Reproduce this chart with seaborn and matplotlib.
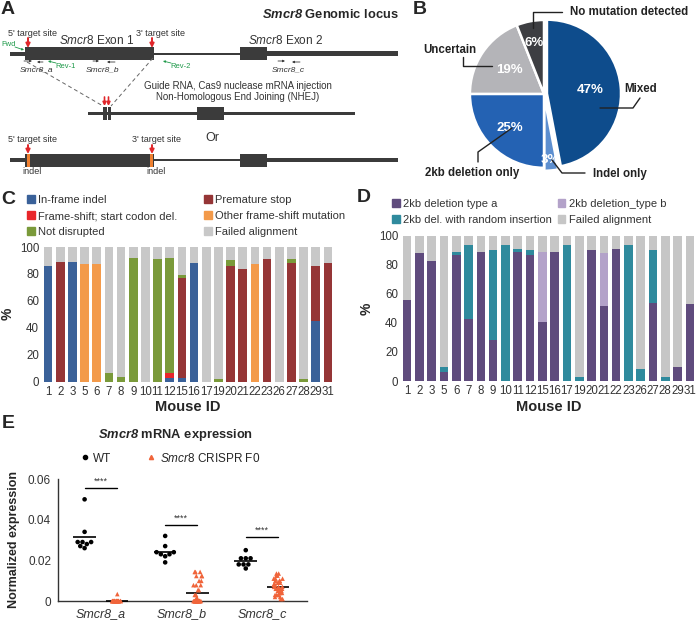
import matplotlib

matplotlib.use("Agg")
import matplotlib.pyplot as plt
import numpy as np
import pandas as pd
import seaborn as sns
from matplotlib.lines import Line2D
from matplotlib.patches import Patch, Rectangle

W, H = 699, 621

# ---- panel B: genotype summary
pie_labels = ["Mixed", "Indel only", "2kb deletion only", "Uncertain", "No mutation detected"]
pie_values = [47, 3, 25, 19, 6]
pie_colors = ["#0e4c8c", "#5d8fd0", "#2462b3", "#b4b4b8", "#3d3e42"]

# ---- panels C and D: per-mouse allele composition (%)
mouse_ids = ["1", "2", "3", "5", "6", "7", "8", "9", "10", "11", "12", "15",
             "16", "17", "19", "20", "21", "22", "23", "26", "27", "28", "29", "31"]

c_inframe = [86, 0, 89, 0, 0, 0, 0, 0, 0, 0, 2.5, 2.5, 88, 0, 0, 0, 0, 0, 0, 0, 0, 0, 45, 0]
c_start_del = [0, 0, 0, 0, 0, 0, 0, 0, 0, 0, 3.5, 0, 0, 0, 0, 0, 0, 0, 0, 0, 0, 0, 0, 0]
c_stop = [0, 89, 0, 0, 0, 0, 0, 0, 0, 0, 0, 74.5, 0, 0, 0, 86, 84, 0, 91, 0, 88, 0, 41, 88]
c_other_fs = [0, 0, 0, 87, 87, 0, 0, 0, 0, 0, 0, 0, 0, 0, 0, 0, 0, 87, 0, 0, 0, 0, 0, 0]
c_not_disrupted = [0, 0, 0, 0, 0, 6, 3, 92, 0, 91, 86, 2, 0, 0, 1.5, 4, 0, 0, 0, 0, 3, 1.5, 0, 0]
c_names = ["In-frame indel", "Frame-shift; start codon del.", "Premature stop",
           "Other frame-shift mutation", "Not disrupted", "Failed alignment"]
c_colors = ["#3a6199", "#e8262a", "#953536", "#f39a4a", "#7a9a3a", "#c8c8c8"]

d_type_a = [56, 88, 83, 6, 87, 43, 89, 28, 0, 89, 87, 41, 89, 0, 0, 90, 52, 91, 0, 0, 54, 0, 10, 53]
d_type_b = [0, 0, 0, 0, 0, 0, 0, 0, 0, 0, 0, 48, 0, 0, 0, 0, 36, 0, 0, 0, 0, 0, 0, 0]
d_insertion = [0, 0, 0, 4, 2, 51, 0, 62, 94, 2, 3, 0, 0, 94, 3, 0, 0, 0, 94, 8, 36, 3, 0, 0]
d_names = ["2kb deletion type a", "2kb deletion_type b",
           "2kb del. with random insertion", "Failed alignment"]
d_colors = ["#5f4b7d", "#b3a2c9", "#2f8a9d", "#c6c6c6"]

# ---- panel E: qPCR
genes = ["Smcr8_a", "Smcr8_b", "Smcr8_c"]
wt_a = [0.050, 0.034, 0.029, 0.029, 0.029, 0.028, 0.027, 0.026]
ko_a = [0.0034] + [0.0] * 24
wt_b = [0.032, 0.027, 0.024, 0.024, 0.023, 0.023, 0.022, 0.019]
ko_b = [0.0143, 0.0143, 0.0143, 0.0123, 0.0123, 0.0123, 0.0099, 0.0099, 0.0078,
        0.0078, 0.0078, 0.0054, 0.0054, 0.003, 0.003, 0.0015, 0.0015] + [0.0] * 20
wt_c = [0.025, 0.021, 0.021, 0.021, 0.018, 0.018, 0.018, 0.016]
ko_c = [0.0135, 0.0135, 0.0125, 0.0125, 0.011, 0.011, 0.011, 0.010, 0.010, 0.010,
        0.009, 0.009, 0.009, 0.008, 0.008, 0.008, 0.008, 0.007, 0.007, 0.007, 0.007,
        0.007, 0.006, 0.006, 0.006, 0.006, 0.006, 0.005, 0.005, 0.005, 0.005, 0.004,
        0.004, 0.004, 0.004, 0.003, 0.003, 0.003, 0.002, 0.002, 0.001, 0.001]
sig_y = [0.0556, 0.0374, 0.0316]
orange = "#f0643a"

sns.set_theme(style="white")
plt.rcParams["font.family"] = ["Liberation Sans", "DejaVu Sans"]
plt.rcParams["mathtext.fontset"] = "custom"
plt.rcParams["mathtext.rm"] = "Liberation Sans"
plt.rcParams["mathtext.it"] = "Liberation Sans:italic"
plt.rcParams["mathtext.bf"] = "Liberation Sans:bold"
plt.rcParams["mathtext.bfit"] = "Liberation Sans:bold:italic"
TXT = "#333333"
np.random.seed(3)  # strip jitter only


def box(left, top, right, bottom):
    """Pixel box -> figure fraction rect."""
    return [left / W, 1 - bottom / H, (right - left) / W, (bottom - top) / H]


def stacked_bars(ax, layers, colors):
    cum = np.zeros(len(mouse_ids))
    tops = []
    for vals in layers:
        cum = cum + np.asarray(vals, dtype=float)
        tops.append(cum.copy())
    for top, color in reversed(list(zip(tops, colors))):
        sns.barplot(x=mouse_ids, y=top, color=color, width=0.7, saturation=1,
                    linewidth=0, errorbar=None, ax=ax)
    ax.set_ylim(0, 100)
    ax.set_xlim(-0.5, len(mouse_ids) - 0.5)
    ax.set_yticks([0, 20, 40, 60, 80, 100])
    ax.tick_params(axis="both", length=0, labelsize=8.3, labelcolor=TXT)
    ax.tick_params(axis="x", pad=3)
    ax.tick_params(axis="y", pad=2)
    sns.despine(ax=ax, left=True, bottom=True)
    ax.set_facecolor("none")
    ax.set_xlabel("Mouse ID", fontsize=10.5, fontweight="bold", labelpad=2)
    ax.set_ylabel("%", fontsize=10, fontweight="bold", labelpad=4)


fig = plt.figure(figsize=(W / 100, H / 100), dpi=100)

# ---------------- panel C
ax_c = fig.add_axes(box(42, 247, 334, 381.5))
c_failed = 100 - np.sum([c_inframe, c_start_del, c_stop, c_other_fs, c_not_disrupted], axis=0)
stacked_bars(ax_c, [c_inframe, c_start_del, c_stop, c_other_fs, c_not_disrupted, c_failed], c_colors)
order_c = [0, 1, 4, 2, 3, 5]
ax_c.legend([Patch(color=c_colors[i]) for i in order_c], [c_names[i] for i in order_c],
            ncol=2, loc="upper left", bbox_to_anchor=(27 / W, 1 - 195 / H),
            bbox_transform=fig.transFigure, frameon=False, fontsize=8,
            labelcolor=TXT, handlelength=0.7, handleheight=0.7, handletextpad=0.3,
            columnspacing=2.4, labelspacing=0.55, borderaxespad=0, borderpad=0)

# ---------------- panel D
ax_d = fig.add_axes(box(401, 236, 696, 381))
d_failed = 100 - np.sum([d_type_a, d_type_b, d_insertion], axis=0)
stacked_bars(ax_d, [d_type_a, d_type_b, d_insertion, d_failed], d_colors)
order_d = [0, 2, 1, 3]
ax_d.legend([Patch(color=d_colors[i]) for i in order_d], [d_names[i] for i in order_d],
            ncol=2, loc="upper left", bbox_to_anchor=(392 / W, 1 - 199 / H),
            bbox_transform=fig.transFigure, frameon=False, fontsize=8,
            labelcolor=TXT, handlelength=0.7, handleheight=0.7, handletextpad=0.3,
            columnspacing=0.5, labelspacing=0.55, borderaxespad=0, borderpad=0)

# ---------------- panel E
ax_e = fig.add_axes(box(58, 479, 307, 601))
rows = []
for gene, wt, ko in zip(genes, [wt_a, wt_b, wt_c], [ko_a, ko_b, ko_c]):
    rows += [(gene, "WT", v) for v in wt]
    rows += [(gene, "CRISPR", v) for v in ko]
df_e = pd.DataFrame(rows, columns=["gene", "group", "value"])
pal = {"WT": "black", "CRISPR": orange}
for i, gene in enumerate(genes):
    for off, grp in [(-0.2, "WT"), (0.2, "CRISPR")]:
        m = df_e.loc[(df_e["gene"] == gene) & (df_e["group"] == grp), "value"].mean()
        ax_e.hlines(m, i + off - 0.14, i + off + 0.14, color="black", lw=1.2, zorder=1)
    ax_e.plot([i - 0.2, i + 0.2], [sig_y[i], sig_y[i]], color="black", lw=1)
    ax_e.text(i, sig_y[i] + 0.0009, "****", ha="center", va="bottom", fontsize=6.5, color=TXT)
sns.swarmplot(data=df_e[df_e["group"] == "WT"], x="gene", y="value", hue="group",
              hue_order=["WT", "CRISPR"], order=genes, dodge=True, palette=pal,
              marker="o", size=3.3, linewidth=0, legend=False, ax=ax_e)
sns.stripplot(data=df_e[df_e["group"] == "CRISPR"], x="gene", y="value", hue="group",
              hue_order=["WT", "CRISPR"], order=genes, dodge=True, palette=pal,
              jitter=0.12, marker="^", size=3.3, linewidth=0, legend=False, ax=ax_e)
for coll in ax_e.collections:
    coll.set_clip_on(False)
ax_e.set_ylim(0, 0.06)
ax_e.set_xlim(-0.53, 2.56)
ax_e.set_yticks([0, 0.02, 0.04, 0.06])
ax_e.set_yticklabels(["0", "0.02", "0.04", "0.06"])
ax_e.set_xticks(range(3))
ax_e.set_xticklabels(genes, fontstyle="italic")
ax_e.tick_params(axis="both", direction="out", length=3, width=0.8, labelsize=8.5,
                 labelcolor=TXT, color="#333", pad=2)
ax_e.tick_params(axis="x", labelsize=9)
sns.despine(ax=ax_e)
for s in ["left", "bottom"]:
    ax_e.spines[s].set_color("#333")
    ax_e.spines[s].set_linewidth(1)
    ax_e.spines[s].set_zorder(0.5)
ax_e.spines["left"].set_bounds(0, 0.06)
ax_e.set_facecolor("none")
ax_e.set_xlabel("")
ax_e.set_ylabel("Normalized expression", fontsize=9, fontweight="bold", labelpad=6)
ax_e.legend([Line2D([], [], marker="o", ls="", color="black", ms=3),
             Line2D([], [], marker="^", ls="", color=orange, ms=3)],
            ["WT", r"$\mathit{Smcr8}$ CRISPR F0"], ncol=2, loc="center left",
            bbox_to_anchor=(80 / W, 1 - 458 / H), bbox_transform=fig.transFigure,
            frameon=False, fontsize=8.5, handlelength=0.8, handletextpad=0.3,
            columnspacing=3.0, borderaxespad=0, borderpad=0)
fig.text(176 / W, 1 - 435 / H, r"$\mathbfit{Smcr8}$ mRNA expression", ha="center",
         va="center", fontsize=9.3, fontweight="bold")

# ---------------- panel B
ax_b = fig.add_axes(box(444, 0, 644, 190))
wedges, _ = ax_b.pie(pie_values, colors=pie_colors, startangle=90, counterclock=False,
                     explode=[0.04, 0.04, 0, 0, 0],
                     wedgeprops=dict(edgecolor="white", linewidth=1.8))
ax_b.set_aspect("auto")
ax_b.set_xlim(-1.35, 1.35)
ax_b.set_ylim(-1.30, 1.27)
pct_r = [0.62, 0.9, 0.66, 0.57, 0.7]
for w, v, r in zip(wedges, pie_values, pct_r):
    ang = np.deg2rad((w.theta1 + w.theta2) / 2)
    ax_b.text(r * np.cos(ang), r * np.sin(ang), f"{v}%", ha="center", va="center",
              color="white", fontsize=9.5, fontweight="bold")

# ---------------- overlay: panel A schematic, letters, pie leaders
ax = fig.add_axes([0, 0, 1, 1])
ax.set_xlim(0, W)
ax.set_ylim(H, 0)
ax.axis("off")
ax.patch.set_alpha(0)
DARK = "#3b3b3b"
RED = "#e0262a"
GREEN = "#1f9a4a"


def rect(x0, x1, yc, h, color=DARK):
    ax.add_patch(Rectangle((x0, yc - h / 2), x1 - x0, h, color=color, lw=0))


def arrow(x0, y0, x1, y1, color, lw=1.0, ms=5):
    ax.annotate("", xy=(x1, y1), xytext=(x0, y0),
                arrowprops=dict(arrowstyle="-|>", color=color, lw=lw, mutation_scale=ms,
                                shrinkA=0, shrinkB=0))


def gene_row(y, indel=False):
    rect(10, 25, y, 4)
    rect(25, 154, y, 13)
    rect(154, 240, y, 2)
    rect(240, 267, y, 13)
    rect(267, 398, y, 4.5)
    if indel:
        rect(27, 30, y, 13, "#f08030")
        rect(150, 153, y, 13, "#f08030")


# row 1
gene_row(53.5)
ax.text(330, 15, r"$\mathbfit{Smcr8}$ Genomic locus", ha="center", va="center",
        fontsize=9.3, fontweight="bold")
ax.text(97, 40, r"$\mathit{Smcr8}$ Exon 1", ha="center", va="center", fontsize=8.5, color=TXT)
ax.text(286, 40, r"$\mathit{Smcr8}$ Exon 2", ha="center", va="center", fontsize=8.5, color=TXT)
for x, lab in [(32, "5' target site"), (160, "3' target site")]:
    ax.text(x, 33, lab, ha="center", va="center", fontsize=6.5, color=TXT)
for x in [28, 152]:
    arrow(x, 38, x, 48, RED, lw=1.4, ms=6)
# primers
for x0, x1 in [(24, 32), (93, 99), (278, 285)]:
    arrow(x0, 61, x1, 61, DARK, lw=0.6, ms=3)
for x0, x1 in [(43, 37), (115, 107), (300, 292)]:
    arrow(x0, 62, x1, 62, DARK, lw=0.6, ms=3)
for x, lab in [(37, "Smcr8_a"), (103, "Smcr8_b"), (288, "Smcr8_c")]:
    ax.text(x, 70, lab, ha="center", va="center", fontsize=6, fontstyle="italic", color=TXT)
ax.text(9, 44, "Fwd", ha="center", va="center", fontsize=5.5, color=GREEN)
arrow(15, 47, 24, 50, GREEN, lw=0.6, ms=3)
ax.text(66, 66, "Rev-1", ha="center", va="center", fontsize=5.5, color=GREEN)
arrow(56, 63, 48, 61, GREEN, lw=0.6, ms=3)
ax.text(181, 66, "Rev-2", ha="center", va="center", fontsize=5.5, color=GREEN)
arrow(171, 63, 163, 61, GREEN, lw=0.6, ms=3)
# NHEJ
ax.plot([27, 103], [62, 106], ls=(0, (4, 3)), color="#666", lw=0.7)
ax.plot([153, 111], [58, 106], ls=(0, (4, 3)), color="#666", lw=0.7)
ax.text(238, 86, "Guide RNA, Cas9 nuclease mRNA injection", ha="center", va="center",
        fontsize=7, color=TXT)
ax.text(238, 97, "Non-Homologous End Joining (NHEJ)", ha="center", va="center",
        fontsize=7, color=TXT)
# row 2
rect(88, 355, 113.5, 3)
rect(103, 106.5, 113.5, 13)
rect(107.5, 111, 113.5, 13)
rect(197, 224, 113.5, 13)
for x in [104.5, 108.5]:
    arrow(x, 97, x, 106, RED, lw=1.2, ms=5)
ax.text(212, 138, "Or", ha="center", va="center", fontsize=9, color=TXT)
# row 3
gene_row(160, indel=True)
for x, lab in [(33, "5' target site"), (156, "3' target site")]:
    ax.text(x, 140, lab, ha="center", va="center", fontsize=6.5, color=TXT)
for x in [28, 152]:
    arrow(x, 145, x, 154, RED, lw=1.4, ms=6)
    ax.text(x + 4, 172, "indel", ha="center", va="center", fontsize=6.5, color=TXT)

# pie labels with leaders
pie_text = {
    "No mutation detected": ((570, 12), "left", [(533, 28), (533, 12), (562, 12)]),
    "Mixed": ((641, 89), "center", [(600, 108), (633, 108), (640, 98)]),
    "Indel only": ((620, 174), "center", [(552, 160), (562, 173), (585, 173)]),
    "2kb deletion only": ((472, 173), "center", [(512, 128), (478, 152), (478, 162)]),
    "Uncertain": ((450, 50), "center", [(463, 57), (463, 66), (492, 66)]),
}
for lab in pie_labels:
    (tx, ty), ha, pts = pie_text[lab]
    ax.text(tx, ty, lab, ha=ha, va="center", fontsize=8.3, fontweight="bold", color="#222")
    xs, ys = zip(*pts)
    ax.plot(xs, ys, color="#222", lw=1)

for lab, x, y in [("A", 8, 10), ("B", 420, 10), ("C", 8, 200), ("D", 364, 198), ("E", 8, 423)]:
    ax.text(x, y, lab, ha="center", va="center", fontsize=14, fontweight="bold")

fig.savefig("out.png", dpi=100)
